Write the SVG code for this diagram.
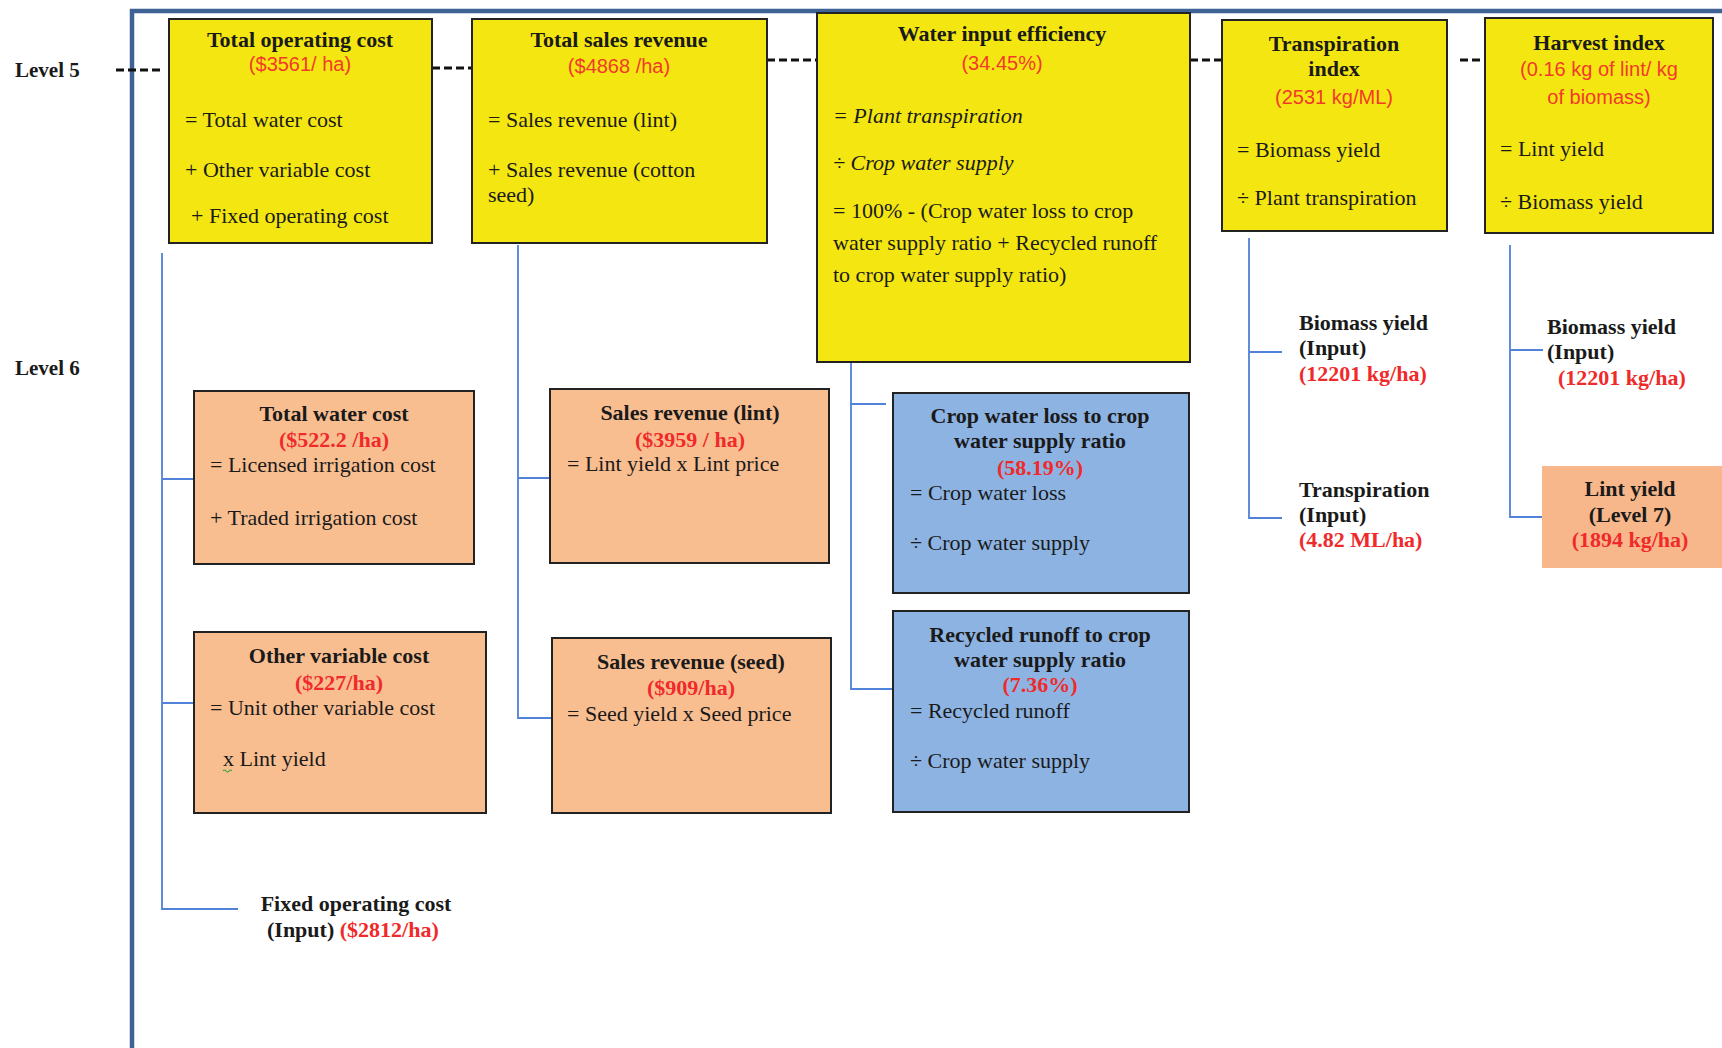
<svg xmlns="http://www.w3.org/2000/svg" width="1722" height="1048" viewBox="0 0 1722 1048">
  <style>
    .frame { fill: none; stroke: #3f6294; stroke-width: 4.5; }
    .dash { fill: none; stroke: #111; stroke-width: 3; stroke-dasharray: 8 4; }
    .conn { fill: none; stroke: #4f82d8; stroke-width: 1.8; }
    .yellow { fill: #f4e711; stroke: #222; stroke-width: 2; }
    .peach { fill: #f9be90; stroke: #222; stroke-width: 2; }
    .blue { fill: #8db3e2; stroke: #222; stroke-width: 2; }
    .peachflat { fill: #f7b78a; }
    .t { font-family: "Liberation Serif", "Times New Roman", serif; font-size: 22px; fill: #1a1a1a; }
    .b { font-weight: bold; }
    .c { text-anchor: middle; }
    .i { font-style: italic; }
    .rs { font-family: "Liberation Sans", Arial, sans-serif; font-size: 20px; fill: #f23a2a; text-anchor: middle; }
    .rb { font-family: "Liberation Serif", "Times New Roman", serif; font-size: 22px; font-weight: bold; fill: #f02a2a; }
    .lvl { font-family: "Liberation Serif", "Times New Roman", serif; font-size: 21px; font-weight: bold; fill: #1a1a1a; }
  </style>

  <!-- outer frame -->
  <path class="frame" d="M132,1048 V11 H1722"/>

  <!-- level labels -->
  <text class="lvl" x="15" y="77">Level 5</text>
  <text class="lvl" x="15" y="375">Level 6</text>

  <!-- connectors -->
  <g id="connectors">
    <path class="dash" d="M116,70 H162"/>
    <path class="dash" d="M432,68 H472"/>
    <path class="dash" d="M767,60 H817"/>
    <path class="dash" d="M1190,60 H1222"/>
    <path class="dash" d="M1460,60 H1485"/>

    <path class="conn" d="M162,253 V909 H238 M162,479 H194 M162,703 H194"/>
    <path class="conn" d="M518,245 V718 H552 M518,478 H550"/>
    <path class="conn" d="M851,363 V689 H893 M851,404 H886"/>
    <path class="conn" d="M1249,238 V518 H1282 M1249,352 H1282"/>
    <path class="conn" d="M1510,245 V517 H1542 M1510,350 H1543"/>
  </g>

  <!-- level 5 -->
  <g id="total-operating-cost">
    <rect class="yellow" x="169" y="19" width="263" height="224"/>
    <text class="t b c" x="300" y="47">Total operating cost</text>
    <text class="rs" x="300" y="71">($3561/ ha)</text>
    <text class="t" x="185" y="127">= Total water cost</text>
    <text class="t" x="185" y="177">+ Other variable cost</text>
    <text class="t" x="191" y="223">+ Fixed operating cost</text>
  </g>

  <g id="total-sales-revenue">
    <rect class="yellow" x="472" y="19" width="295" height="224"/>
    <text class="t b c" x="619" y="47">Total sales revenue</text>
    <text class="rs" x="619" y="73">($4868 /ha)</text>
    <text class="t" x="488" y="127">= Sales revenue (lint)</text>
    <text class="t" x="488" y="177">+ Sales revenue (cotton</text>
    <text class="t" x="488" y="202">seed)</text>
  </g>

  <g id="water-input-efficiency">
    <rect class="yellow" x="817" y="13" width="373" height="349"/>
    <text class="t b c" x="1002" y="41">Water input efficiency</text>
    <text class="rs" x="1002" y="70">(34.45%)</text>
    <text class="t i" x="833" y="123">= Plant transpiration</text>
    <text class="t i" x="833" y="170">÷ Crop water supply</text>
    <text class="t" x="833" y="218">= 100% - (Crop water loss to crop</text>
    <text class="t" x="833" y="250">water supply ratio + Recycled runoff</text>
    <text class="t" x="833" y="282">to crop water supply ratio)</text>
  </g>

  <g id="transpiration-index">
    <rect class="yellow" x="1222" y="20" width="225" height="211"/>
    <text class="t b c" x="1334" y="51">Transpiration</text>
    <text class="t b c" x="1334" y="76">index</text>
    <text class="rs" x="1334" y="104">(2531 kg/ML)</text>
    <text class="t" x="1237" y="157">= Biomass yield</text>
    <text class="t" x="1237" y="205">÷ Plant transpiration</text>
  </g>

  <g id="harvest-index">
    <rect class="yellow" x="1485" y="18" width="228" height="215"/>
    <text class="t b c" x="1599" y="50">Harvest index</text>
    <text class="rs" x="1599" y="76">(0.16 kg of lint/ kg</text>
    <text class="rs" x="1599" y="104">of biomass)</text>
    <text class="t" x="1500" y="156">= Lint yield</text>
    <text class="t" x="1500" y="209">÷ Biomass yield</text>
  </g>

  <!-- level 6 -->
  <g id="total-water-cost">
    <rect class="peach" x="194" y="391" width="280" height="173"/>
    <text class="t b c" x="334" y="421">Total water cost</text>
    <text class="rb c" x="334" y="447">($522.2 /ha)</text>
    <text class="t" x="210" y="472">= Licensed irrigation cost</text>
    <text class="t" x="210" y="525">+ Traded irrigation cost</text>
  </g>

  <g id="other-variable-cost">
    <rect class="peach" x="194" y="632" width="292" height="181"/>
    <text class="t b c" x="339" y="663">Other variable cost</text>
    <text class="rb c" x="339" y="690">($227/ha)</text>
    <text class="t" x="210" y="715">= Unit other variable cost</text>
    <text class="t" x="223" y="766">x Lint yield</text>
    <path d="M223,771 q1.5,-2 3,0 t3,0 t3,0" fill="none" stroke="#3aa83a" stroke-width="1.2"/>
  </g>

  <g id="fixed-operating-cost">
    <text class="t b c" x="356" y="911">Fixed operating cost</text>
    <text class="t b" x="267" y="937">(Input)  <tspan class="rb">($2812/ha)</tspan></text>
  </g>

  <g id="sales-revenue-lint">
    <rect class="peach" x="550" y="389" width="279" height="174"/>
    <text class="t b c" x="690" y="420">Sales revenue (lint)</text>
    <text class="rb c" x="690" y="447">($3959 / ha)</text>
    <text class="t" x="567" y="471">= Lint yield x Lint price</text>
  </g>

  <g id="sales-revenue-seed">
    <rect class="peach" x="552" y="638" width="279" height="175"/>
    <text class="t b c" x="691" y="669">Sales revenue (seed)</text>
    <text class="rb c" x="691" y="695">($909/ha)</text>
    <text class="t" x="567" y="721">= Seed yield x Seed price</text>
  </g>

  <g id="crop-water-loss-ratio">
    <rect class="blue" x="893" y="393" width="296" height="200"/>
    <text class="t b c" x="1040" y="423">Crop water loss to crop</text>
    <text class="t b c" x="1040" y="448">water supply ratio</text>
    <text class="rb c" x="1040" y="475">(58.19%)</text>
    <text class="t" x="910" y="500">= Crop water loss</text>
    <text class="t" x="910" y="550">÷ Crop water supply</text>
  </g>

  <g id="recycled-runoff-ratio">
    <rect class="blue" x="893" y="611" width="296" height="201"/>
    <text class="t b c" x="1040" y="642">Recycled runoff to crop</text>
    <text class="t b c" x="1040" y="667">water supply ratio</text>
    <text class="rb c" x="1040" y="692">(7.36%)</text>
    <text class="t" x="910" y="718">= Recycled runoff</text>
    <text class="t" x="910" y="768">÷ Crop water supply</text>
  </g>

  <g id="biomass-yield-input-a">
    <text class="t b" x="1299" y="330">Biomass yield</text>
    <text class="t b" x="1299" y="355">(Input)</text>
    <text class="rb" x="1299" y="381">(12201 kg/ha)</text>
  </g>

  <g id="transpiration-input">
    <text class="t b" x="1299" y="497">Transpiration</text>
    <text class="t b" x="1299" y="522">(Input)</text>
    <text class="rb" x="1299" y="547">(4.82 ML/ha)</text>
  </g>

  <g id="biomass-yield-input-b">
    <text class="t b" x="1547" y="334">Biomass yield</text>
    <text class="t b" x="1547" y="359">(Input)</text>
    <text class="rb" x="1558" y="385">(12201 kg/ha)</text>
  </g>

  <g id="lint-yield">
    <rect class="peachflat" x="1542" y="466" width="180" height="102"/>
    <text class="t b c" x="1630" y="496">Lint yield</text>
    <text class="t b c" x="1630" y="522">(Level 7)</text>
    <text class="rb c" x="1630" y="547">(1894 kg/ha)</text>
  </g>
</svg>
